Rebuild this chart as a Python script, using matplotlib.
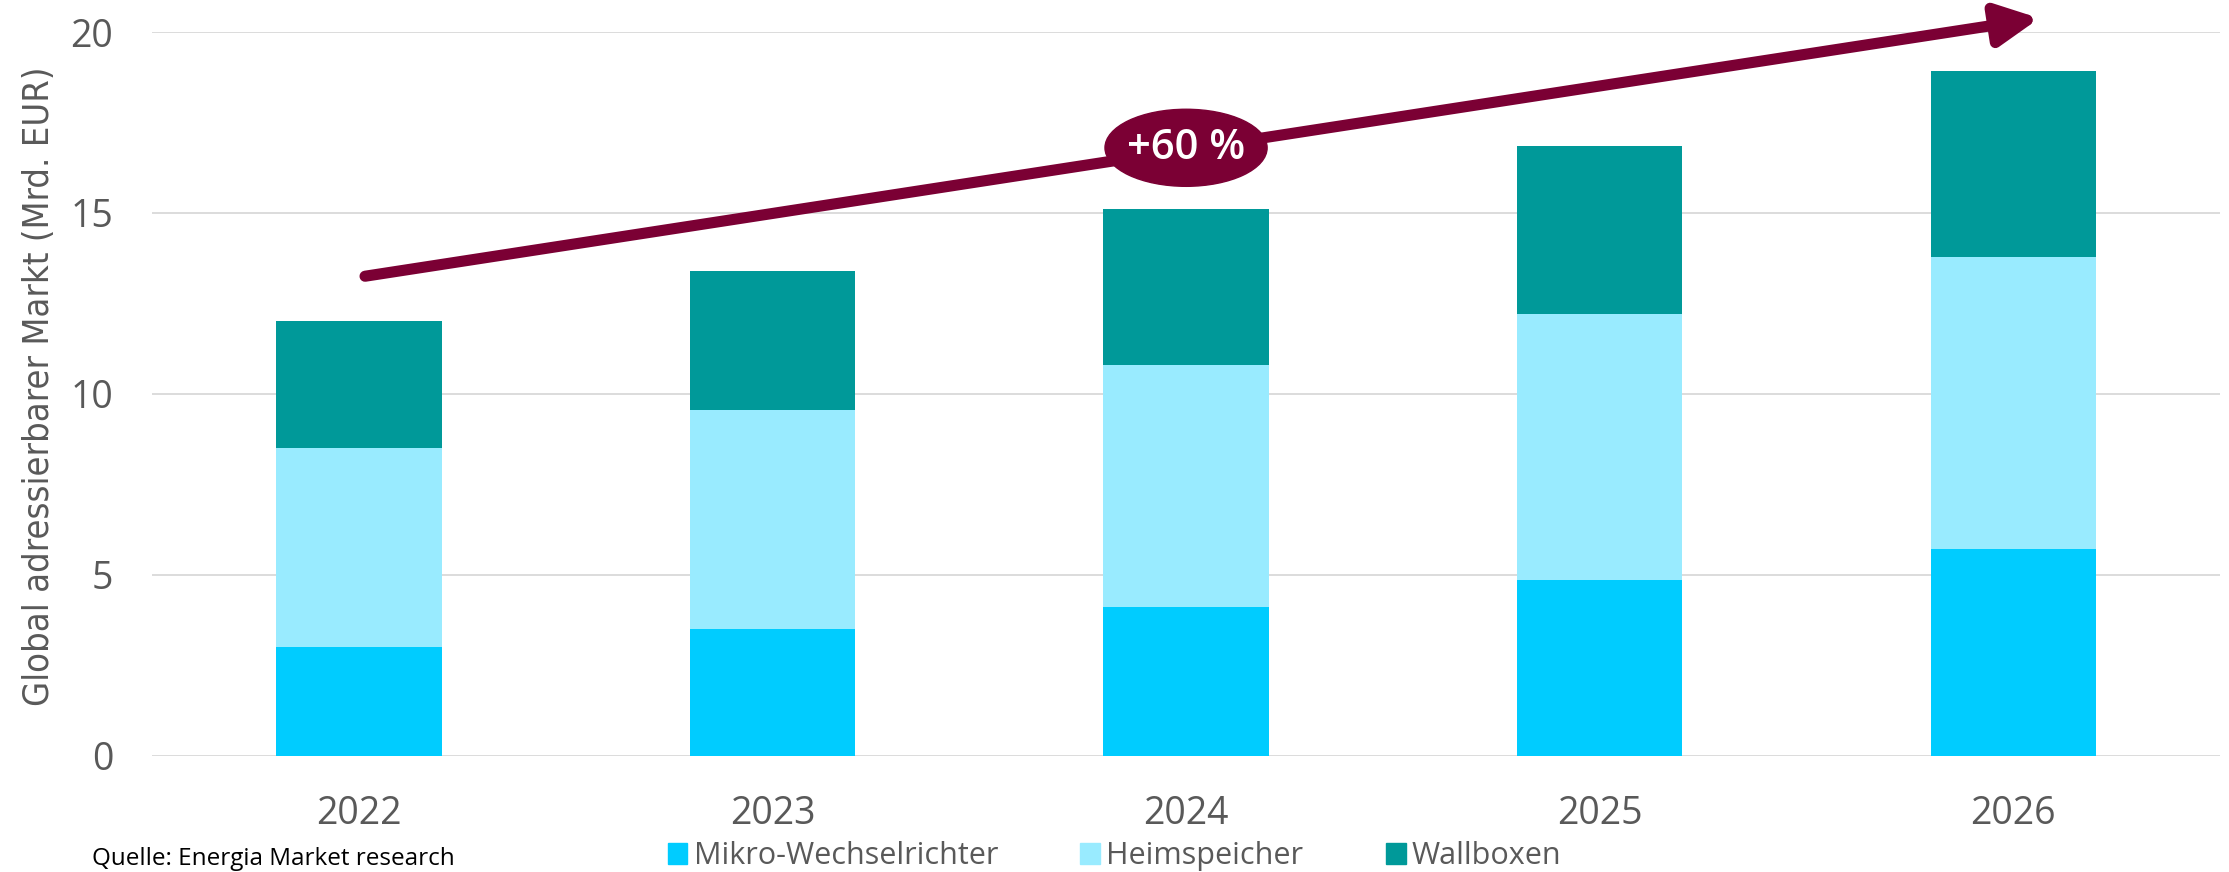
import matplotlib
matplotlib.use("Agg")
import matplotlib.pyplot as plt
from matplotlib import font_manager
from matplotlib.patches import Ellipse, Patch
import numpy as np

# values in Mrd. EUR
years = ["2022", "2023", "2024", "2025", "2026"]
mikro = [3.0, 3.5, 4.1, 4.85, 5.7]
heim = [5.5, 6.05, 6.7, 7.35, 8.07]
wallbox = [3.5, 3.85, 4.3, 4.65, 5.15]

series_names = ["Mikro-Wechselrichter", "Heimspeicher", "Wallboxen"]
colors = ["#00CCFF", "#99EBFF", "#009999"]
maroon = "#7B0034"

# growth arrow (data coords) and label
arrow_start = (0.015, 13.25)
arrow_end = (4.063, 20.38)
growth_label = "+60 %"

plt.rcParams['font.family'] = ['Open Sans', 'DejaVu Sans']

# narrow font for the y label if there is one
fonts = font_manager.fontManager.ttflist
names = {f.name for f in fonts}
if 'Liberation Sans Narrow' in names:
    ylab_font = dict(family='Liberation Sans Narrow', fontsize=29)
elif any(f.name == 'DejaVu Sans' and f.stretch == 'condensed' for f in fonts):
    ylab_font = dict(family='DejaVu Sans', stretch='condensed', fontsize=26)
else:
    ylab_font = dict(family='Open Sans', fontsize=25)

fig = plt.figure(figsize=(22.29, 8.72), dpi=100)
ax = fig.add_axes([0.0682, 0.1334, 0.9278, 0.8299])

x = np.arange(len(years))
w = 0.40
bottom = np.zeros(len(years))
for vals, name, c in zip([mikro, heim, wallbox], series_names, colors):
    ax.bar(x, vals, w, bottom=bottom, color=c, label=name, zorder=2)
    bottom = bottom + np.array(vals)

ax.set_xlim(-0.5, len(years) - 0.5)
ax.set_ylim(0, 20)
ax.set_yticks([0, 5, 10, 15, 20])
ax.set_xticks(x)
ax.set_xticklabels(years)
ax.tick_params(axis='both', length=0, labelsize=27, colors='#595959')
ax.tick_params(axis='x', pad=28)
ax.tick_params(axis='y', pad=28)
ax.yaxis.grid(True, color='#d9d9d9', lw=1.3, zorder=0)
ax.set_axisbelow(True)
for s in ax.spines.values():
    s.set_visible(False)

ax.set_ylabel("Global adressierbarer Markt (Mrd. EUR)", color='#595959',
              va='center', **ylab_font)
ax.yaxis.set_label_coords(-0.0545, 0.51)

# trend arrow
ax.annotate('', xy=arrow_end, xytext=arrow_start, annotation_clip=False,
            arrowprops=dict(arrowstyle='-|>,head_length=1.0,head_width=0.5',
                            mutation_scale=25, lw=8, color=maroon,
                            shrinkA=0, shrinkB=0), zorder=5)
ell = Ellipse((2.0, 16.8), 0.392, 2.13, color=maroon, zorder=6, clip_on=False)
ax.add_patch(ell)
ax.text(2.0, 16.8, growth_label, color='white', fontsize=30, weight='semibold',
        ha='center', va='center', zorder=7)

handles = [Patch(color=c) for c in colors]
fig.legend(handles, series_names, loc='center', bbox_to_anchor=(0.5, 0.018),
           ncol=3, frameon=False, fontsize=22, labelcolor='#595959',
           handlelength=0.65, handleheight=0.65, handletextpad=0.2,
           columnspacing=2.7, borderpad=0)

fig.text(92 / 2229, 0.015, "Quelle: Energia Market research", fontsize=17.5,
         color='black', ha='left', va='center')

fig.savefig("out.png", dpi=100)
